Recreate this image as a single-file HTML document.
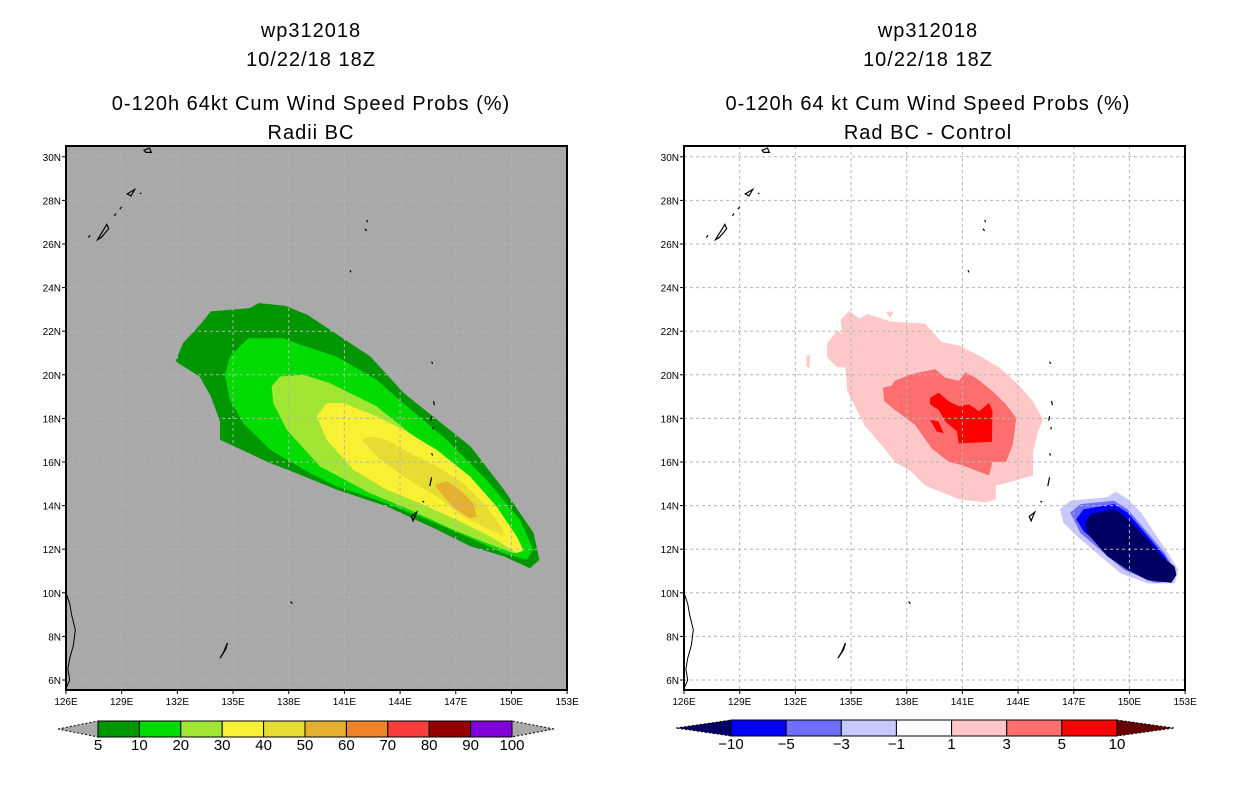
<!DOCTYPE html>
<html><head><meta charset="utf-8"><style>
body{margin:0;background:#fff;}
svg{display:block;font-family:"Liberation Sans",sans-serif;}
</style></head><body>
<svg id="s" width="1236" height="800" viewBox="0 0 1236 800" xmlns="http://www.w3.org/2000/svg">
<g id="titles" font-size="20" text-anchor="middle" fill="#000" letter-spacing="1">
<text x="311" y="37">wp312018</text>
<text x="311" y="66">10/22/18 18Z</text>
<text x="311" y="110">0-120h 64kt Cum Wind Speed Probs (%)</text>
<text x="311" y="139">Radii BC</text>
<text x="928" y="37">wp312018</text>
<text x="928" y="66">10/22/18 18Z</text>
<text x="928" y="110">0-120h 64 kt Cum Wind Speed Probs (%)</text>
<text x="928" y="139">Rad BC - Control</text>
</g>
</svg>
<script>
// ---- data (lon, lat polygons) ----
const lonTicks=[126,129,132,135,138,141,144,147,150,153];
const latTicks=[6,8,10,12,14,16,18,20,22,24,26,28,30];
const probLevels=[5,10,20,30,40,50];
const probColors=['#009600','#00dc00','#a0e632','#f8f032','#e6dc32','#e6af2d'];
const prob5=[[131.9,20.61],[132.3,21.45],[133.3,22.37],[133.8,22.91],[135.9,23.06],[136.4,23.29],[137.8,23.17],[139.0,22.75],[142.4,20.84],[144.2,19.16],[147.8,16.71],[149.6,14.73],[151.2,12.74],[151.5,11.51],[151.0,11.13],[149.6,11.67],[147.8,12.13],[146.0,12.89],[143.3,13.96],[140.6,14.73],[138.4,15.49],[137.0,15.95],[134.3,17.02],[134.3,17.86],[133.8,19.01],[133.2,19.92]];
const prob10=[[134.56,20.0],[134.83,20.84],[135.82,21.68],[137.71,21.68],[138.42,21.45],[140.58,20.84],[142.74,19.77],[144.17,18.7],[146.51,17.02],[148.66,15.18],[150.46,13.35],[151.18,11.97],[150.82,11.51],[149.56,11.82],[147.76,12.51],[145.07,13.5],[142.74,14.27],[140.58,14.88],[139.14,15.49],[137.0,16.56],[135.55,17.78],[134.83,18.85]];
const prob20=[[137.08,19.47],[137.53,19.92],[138.78,20.0],[140.22,19.62],[142.74,18.55],[144.53,17.33],[146.87,15.95],[148.66,14.42],[150.28,12.59],[150.64,11.9],[150.1,11.82],[148.66,12.28],[146.87,12.89],[144.53,13.81],[142.38,14.57],[139.68,15.8],[137.89,17.48],[137.17,18.7]];
const prob30=[[139.5,18.09],[140.04,18.7],[140.94,18.7],[142.74,18.09],[144.17,17.48],[145.97,16.56],[147.76,15.34],[149.2,13.96],[150.28,12.59],[150.64,11.97],[150.28,11.82],[148.84,12.59],[147.4,13.2],[145.07,14.11],[143.27,14.73],[141.48,15.64],[140.04,17.02]];
const prob40=[[141.93,17.02],[142.38,17.17],[143.27,17.02],[144.17,16.56],[145.97,15.8],[147.4,15.03],[148.66,13.96],[149.56,12.89],[149.56,12.59],[148.84,12.89],[147.4,13.5],[145.97,14.42],[144.17,15.34],[142.74,16.26]];
const prob50=[[145.88,14.96],[146.51,15.11],[147.22,14.73],[147.94,14.11],[148.12,13.5],[147.76,13.43],[147.04,13.81],[146.33,14.42]];
const diffLevels=['-10','-5','-3','-1','1','3','5','10'];
const diffColors=['#000064','#0000ff','#6e6eff','#c8c8ff','#ffffff','#ffc8c8','#ff6e6e','#ff0000','#640000'];
const diffP1=[[134.71,20.18],[134.44,22.51],[134.89,22.94],[135.44,22.58],[135.89,22.79],[137.17,22.43],[138.99,22.35],[139.89,21.5],[140.8,21.35],[141.9,20.88],[142.99,20.34],[144.08,19.49],[144.81,18.79],[145.35,17.94],[145.08,17.4],[144.81,16.47],[144.81,15.38],[143.53,15.07],[142.8,14.92],[142.8,14.3],[142.26,14.14],[140.8,14.3],[138.99,14.92],[138.26,15.54],[137.35,16.0],[136.8,16.62],[135.71,17.71],[135.17,18.64],[134.8,19.25]];
const diffP1b=[[133.71,21.42],[134.26,22.04],[134.71,21.73],[134.71,20.34],[134.26,20.34],[133.71,20.8]];
const diffP1c=[[136.9,22.9],[137.3,22.9],[137.1,22.6]];
const diffP1d=[[132.6,20.9],[132.8,20.9],[132.75,20.3],[132.6,20.4]];
const diffP3=[[136.71,19.41],[137.17,19.49],[137.35,19.72],[138.26,20.03],[139.53,20.26],[140.08,19.87],[140.8,19.72],[141.17,20.11],[141.71,19.87],[142.62,19.25],[143.35,18.64],[143.9,18.02],[143.81,17.4],[143.71,16.78],[143.35,16.0],[142.62,16.0],[142.44,15.38],[140.99,15.85],[140.26,16.0],[139.35,16.62],[138.44,17.71],[137.35,18.4],[136.8,18.79]];
const diffP5=[[139.26,18.94],[139.71,19.18],[140.26,18.79],[140.8,18.56],[141.35,18.64],[141.9,18.33],[142.44,18.71],[142.62,18.33],[142.59,16.93],[140.8,16.85],[140.71,17.4],[140.08,17.86],[139.71,18.4],[139.26,18.64]];
const diffP5b=[[139.26,17.94],[139.71,17.86],[139.99,17.32],[139.62,17.4]];
const diffM1=[[146.26,13.83],[146.81,14.22],[148.81,14.38],[149.26,14.64],[149.9,14.3],[150.63,13.68],[151.35,12.75],[152.08,11.82],[152.63,11.05],[152.44,10.43],[150.99,10.43],[149.53,10.89],[148.44,11.67],[147.17,12.6],[146.44,13.22]];
const diffM3=[[146.81,13.68],[147.35,14.07],[149.17,14.22],[149.9,13.83],[150.99,12.75],[151.9,11.82],[152.44,11.05],[152.26,10.51],[151.35,10.46],[149.72,11.05],[148.63,11.82],[147.35,12.75]];
const diffM5=[[147.13,13.37],[147.53,13.83],[149.17,14.07],[149.9,13.68],[150.99,12.6],[151.9,11.67],[152.35,11.05],[152.17,10.55],[151.53,10.51],[149.9,11.2],[148.81,11.9],[147.53,12.83]];
const diffM10=[[147.62,13.22],[147.9,13.6],[149.17,13.83],[149.72,13.53],[150.81,12.6],[151.72,11.67],[152.44,11.2],[152.53,10.82],[152.26,10.46],[150.99,10.58],[149.9,11.05],[148.81,11.67],[147.71,12.75]];
const islands=[[[130.2,30.3],[130.5,30.4],[130.6,30.2],[130.3,30.2]],[[129.3,28.3],[129.7,28.5],[129.5,28.2]],[[130.0,28.3],[130.05,28.35]],[[128.9,27.6],[129.0,27.7]],[[128.6,27.3],[128.7,27.4]],[[127.7,26.2],[128.2,26.9],[128.3,26.7],[127.9,26.3]],[[127.2,26.3],[127.3,26.4]],[[142.2,27.1],[142.25,27.0]],[[142.1,26.7],[142.2,26.6]],[[141.3,24.8],[141.35,24.7]],[[145.7,20.6],[145.75,20.5]],[[145.8,18.8],[145.85,18.6]],[[145.7,18.1],[145.65,17.9]],[[145.8,17.6],[145.75,17.5]],[[145.7,16.4],[145.75,16.3]],[[145.7,15.3],[145.6,14.9]],[[145.2,14.2],[145.3,14.15]],[[144.6,13.5],[144.9,13.7],[144.7,13.3]],[[138.1,9.6],[138.2,9.5]],[[134.5,7.3],[134.7,7.7],[134.6,7.4],[134.3,7.0]]];
const coast=[[126,10.0],[126.2,9.5],[126.3,9.0],[126.5,8.3],[126.4,7.6],[126.2,7.0],[126.1,6.5],[126.2,6.0],[126.0,5.6]];

const NS='http://www.w3.org/2000/svg';
const svg=document.getElementById('s');
function mk(tag,attrs,parent){const e=document.createElementNS(NS,tag);for(const k in attrs)e.setAttribute(k,attrs[k]);(parent||svg).appendChild(e);return e;}
const W=501,H=544,TOP=146;
function xs(lon,x0){return x0+(lon-126)*18.56;}
function ys(lat){return 680-(lat-6)*21.8;}
function pts(poly,x0){return poly.map(p=>xs(p[0],x0).toFixed(1)+','+ys(p[1]).toFixed(1)).join(' ');}

function panel(x0,bg,layers,name){
  const g=mk('g',{});
  
  
  const r=mk('rect',{x:x0,y:TOP,width:W,height:H,fill:bg},g);
  
  
  const cp=mk('clipPath',{id:'clip'+name},g);
  mk('rect',{x:x0,y:TOP,width:W,height:H},cp);
  const lg=mk('g',{'clip-path':'url(#clip'+name+')'},g);
  layers.forEach(([poly,col,lab])=>{
    const p=mk('polygon',{points:pts(poly,x0),fill:col},lg);
    
    
  });
  // grid
  lonTicks.forEach(l=>{const ln=mk('line',{x1:xs(l,x0),x2:xs(l,x0),y1:TOP,y2:TOP+H,stroke:'#b4b4b4','stroke-dasharray':'3,3','stroke-width':1},lg);
    });
  latTicks.forEach(l=>{const ln=mk('line',{x1:x0,x2:x0+W,y1:ys(l),y2:ys(l),stroke:'#b4b4b4','stroke-dasharray':'3,3','stroke-width':1},lg);
    });
  // islands
  islands.forEach(is=>{const p=mk('polygon',{points:pts(is,x0),fill:'none',stroke:'#000','stroke-width':1.2},lg);
    });
  const c=mk('polyline',{points:pts(coast,x0),fill:'none',stroke:'#000','stroke-width':1},lg);
  
  const fr=mk('rect',{x:x0,y:TOP,width:W,height:H,fill:'none',stroke:'#000','stroke-width':2},g);
  
  lonTicks.forEach(l=>{
    mk('line',{x1:xs(l,x0),x2:xs(l,x0),y1:TOP+H,y2:TOP+H+4,stroke:'#000'},g);
    const t=mk('text',{x:xs(l,x0),y:TOP+H+15,'font-size':10,'text-anchor':'middle'},g);
    t.textContent=l+'E';
    
  });
  latTicks.forEach(l=>{
    mk('line',{x1:x0-4,x2:x0,y1:ys(l),y2:ys(l),stroke:'#000'},g);
    const t=mk('text',{x:x0-5,y:ys(l)+4,'font-size':10,'text-anchor':'end'},g);
    t.textContent=l+'N';
    
  });
}
panel(66,'#a9a9a9',[[prob5,probColors[0],'prob-5'],[prob10,probColors[1],'prob-10'],[prob20,probColors[2],'prob-20'],[prob30,probColors[3],'prob-30'],[prob40,probColors[4],'prob-40'],[prob50,probColors[5],'prob-50']],'left');
panel(684,'#ffffff',[[diffP1,diffColors[5],'diff-pos-1'],[diffP1b,diffColors[5],'diff-pos-1b'],[diffP1c,diffColors[5],'diff-pos-1c'],[diffP1d,diffColors[5],'diff-pos-1d'],[diffP3,diffColors[6],'diff-pos-3'],[diffP5,diffColors[7],'diff-pos-5'],[diffP5b,diffColors[7],'diff-pos-5b'],[diffM1,diffColors[3],'diff-neg-1'],[diffM3,diffColors[2],'diff-neg-3'],[diffM5,diffColors[1],'diff-neg-5'],[diffM10,diffColors[0],'diff-neg-10']],'right');

// colorbars
function colorbar(bx0,bx1,tipL,tipR,y0,y1,cols,triL,triR,labels,name){
  const g=mk('g',{});
  
  
  const ym=(y0+y1)/2,n=cols.length,w=(bx1-bx0)/n;
  const tl=mk('polygon',{points:`${tipL},${ym} ${bx0},${y0} ${bx0},${y1}`,fill:triL,stroke:'#000','stroke-width':1,'stroke-dasharray':'2,2'},g);
  
  const tr=mk('polygon',{points:`${tipR},${ym} ${bx1},${y0} ${bx1},${y1}`,fill:triR,stroke:'#000','stroke-width':1,'stroke-dasharray':'2,2'},g);
  
  cols.forEach((c,i)=>{const r=mk('rect',{x:bx0+i*w,y:y0,width:w,height:y1-y0,fill:c,stroke:'#000','stroke-width':1},g);
    });
  labels.forEach((l,i)=>{const t=mk('text',{x:bx0+i*w,y:y1+13,'font-size':15,'text-anchor':'middle'},g);
    t.textContent=l.replace('-','\u2212');
    });
}
colorbar(98,512,58,554,721,737,['#009600','#00dc00','#a0e632','#f8f032','#e6dc32','#e6af2d','#f08228','#fa3c3c','#960000','#8200dc'],'#a9a9a9','#a9a9a9',['5','10','20','30','40','50','60','70','80','90','100'],'left-colorbar');
colorbar(731,1117,676,1174,720,736,diffColors.slice(1,8),diffColors[0],diffColors[8],diffLevels,'right-colorbar');
</script>
</body></html>
